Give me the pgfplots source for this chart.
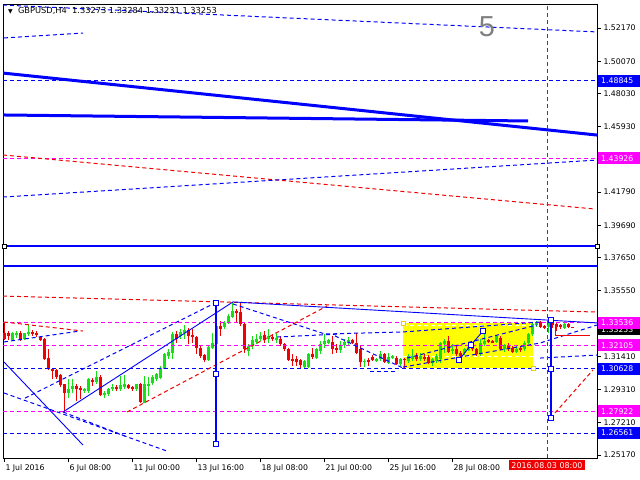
\documentclass[border=0pt]{standalone}
\usepackage{fontspec}
\setmainfont{DejaVu Sans}
\newfontfamily\lib{Liberation Sans}
\usepackage{pgfplots}
\usepackage{pgfplotstable}
\pgfplotsset{compat=1.18}

\definecolor{cup}{RGB}{20,225,20}
\definecolor{cdn}{RGB}{240,0,0}
\definecolor{cblue}{RGB}{0,0,255}
\definecolor{cmag}{RGB}{255,0,255}
\definecolor{cyel}{RGB}{255,255,0}

% H4 candles, x = bar number (1 Jul 2016 = 0)
\pgfplotstableread{
i o h l c
2 1.3244 1.3294 1.3237 1.3286
3 1.3275 1.3301 1.3259 1.3290
5 1.3248 1.3290 1.3244 1.3286
6 1.3280 1.3343 1.3269 1.3294
16 1.2907 1.2995 1.2879 1.2936
17 1.2932 1.2999 1.2911 1.2953
20 1.2921 1.2942 1.2911 1.2936
21 1.2921 1.3006 1.2911 1.2995
23 1.2978 1.3048 1.2964 1.3012
25 1.2894 1.2921 1.2879 1.2907
26 1.2900 1.2942 1.2890 1.2936
27 1.2932 1.2964 1.2921 1.2949
29 1.2932 1.3016 1.2921 1.2957
30 1.2949 1.3020 1.2932 1.2964
33 1.2932 1.2968 1.2921 1.2964
35 1.2848 1.3016 1.2843 1.2964
36 1.2953 1.3012 1.2890 1.2968
37 1.2970 1.3020 1.2959 1.3012
38 1.2995 1.3037 1.2985 1.3027
39 1.3006 1.3080 1.2995 1.3069
40 1.3063 1.3164 1.3058 1.3153
41 1.3143 1.3185 1.3122 1.3168
42 1.3164 1.3294 1.3122 1.3280
44 1.3269 1.3311 1.3248 1.3294
45 1.3290 1.3336 1.3248 1.3307
51 1.3117 1.3210 1.3111 1.3202
52 1.3195 1.3290 1.3185 1.3227
53 1.3216 1.3480 1.3206 1.3332
55 1.3328 1.3364 1.3315 1.3353
56 1.3353 1.3406 1.3343 1.3395
57 1.3391 1.3484 1.3385 1.3427
61 1.3174 1.3216 1.3143 1.3206
62 1.3206 1.3269 1.3185 1.3244
63 1.3231 1.3280 1.3216 1.3252
64 1.3248 1.3294 1.3237 1.3269
66 1.3248 1.3315 1.3227 1.3269
68 1.3244 1.3286 1.3223 1.3259
75 1.3075 1.3117 1.3069 1.3111
76 1.3075 1.3164 1.3069 1.3153
78 1.3132 1.3195 1.3122 1.3185
79 1.3174 1.3237 1.3153 1.3216
80 1.3216 1.3280 1.3195 1.3237
81 1.3227 1.3252 1.3216 1.3242
84 1.3181 1.3237 1.3159 1.3210
85 1.3210 1.3248 1.3195 1.3231
86 1.3223 1.3263 1.3210 1.3244
90 1.3105 1.3122 1.3075 1.3111
93 1.3111 1.3132 1.3105 1.3126
94 1.3122 1.3174 1.3111 1.3153
96 1.3101 1.3164 1.3090 1.3136
97 1.3132 1.3151 1.3122 1.3143
99 1.3090 1.3132 1.3080 1.3126
101 1.3111 1.3153 1.3101 1.3143
102 1.3122 1.3185 1.3111 1.3143
104 1.3122 1.3159 1.3111 1.3143
107 1.3096 1.3132 1.3080 1.3126
108 1.3111 1.3153 1.3096 1.3143
109 1.3122 1.3231 1.3096 1.3223
110 1.3216 1.3248 1.3164 1.3237
112 1.3172 1.3216 1.3153 1.3189
115 1.3159 1.3195 1.3147 1.3185
116 1.3181 1.3216 1.3172 1.3202
119 1.3153 1.3248 1.3143 1.3227
120 1.3216 1.3290 1.3206 1.3237
123 1.3231 1.3273 1.3223 1.3269
125 1.3185 1.3216 1.3168 1.3210
128 1.3168 1.3210 1.3159 1.3189
130 1.3185 1.3237 1.3174 1.3227
131 1.3227 1.3290 1.3216 1.3280
132 1.3280 1.3353 1.3269 1.3343
133 1.3336 1.3364 1.3328 1.3358
136 1.3328 1.3364 1.3290 1.3353
140 1.3322 1.3353 1.3315 1.3343
}\up

\pgfplotstableread{
i o h l c
0 1.3290 1.3358 1.3244 1.3248
1 1.3290 1.3301 1.3244 1.3269
4 1.3290 1.3301 1.3237 1.3248
7 1.3294 1.3307 1.3269 1.3280
8 1.3290 1.3301 1.3265 1.3273
9 1.3265 1.3269 1.3237 1.3244
10 1.3248 1.3259 1.3117 1.3122
11 1.3128 1.3189 1.3054 1.3058
12 1.3063 1.3069 1.2995 1.3048
13 1.3052 1.3058 1.2999 1.3012
14 1.3020 1.3027 1.2949 1.2957
15 1.2964 1.2968 1.2784 1.2911
18 1.2953 1.2964 1.2858 1.2932
19 1.2942 1.2953 1.2869 1.2926
22 1.2991 1.3006 1.2953 1.2978
24 1.3012 1.3020 1.2890 1.2894
28 1.2949 1.2957 1.2921 1.2932
31 1.2959 1.2968 1.2932 1.2940
32 1.2947 1.2953 1.2921 1.2932
34 1.2964 1.2974 1.2848 1.2852
43 1.3280 1.3301 1.3227 1.3248
46 1.3307 1.3322 1.3216 1.3269
47 1.3273 1.3315 1.3227 1.3261
48 1.3263 1.3269 1.3153 1.3195
49 1.3195 1.3206 1.3132 1.3143
50 1.3147 1.3153 1.3105 1.3117
54 1.3332 1.3364 1.3269 1.3315
58 1.3427 1.3438 1.3353 1.3412
59 1.3421 1.3480 1.3332 1.3343
60 1.3343 1.3353 1.3164 1.3185
65 1.3273 1.3301 1.3227 1.3244
67 1.3263 1.3280 1.3237 1.3248
69 1.3248 1.3269 1.3206 1.3216
70 1.3216 1.3227 1.3174 1.3185
71 1.3185 1.3195 1.3111 1.3117
72 1.3122 1.3153 1.3080 1.3111
73 1.3122 1.3143 1.3080 1.3105
74 1.3117 1.3122 1.3069 1.3084
77 1.3153 1.3195 1.3122 1.3136
82 1.3231 1.3269 1.3153 1.3189
83 1.3195 1.3216 1.3164 1.3181
87 1.3244 1.3252 1.3216 1.3227
88 1.3227 1.3290 1.3153 1.3164
89 1.3185 1.3206 1.3075 1.3105
91 1.3115 1.3132 1.3080 1.3105
92 1.3136 1.3147 1.3109 1.3115
95 1.3153 1.3164 1.3101 1.3105
98 1.3132 1.3143 1.3084 1.3090
100 1.3126 1.3130 1.3058 1.3117
103 1.3143 1.3164 1.3111 1.3122
105 1.3138 1.3153 1.3111 1.3126
106 1.3136 1.3147 1.3090 1.3096
111 1.3237 1.3269 1.3164 1.3168
113 1.3189 1.3206 1.3143 1.3153
114 1.3164 1.3174 1.3122 1.3143
117 1.3195 1.3206 1.3174 1.3185
118 1.3185 1.3195 1.3143 1.3153
121 1.3244 1.3252 1.3223 1.3231
122 1.3237 1.3244 1.3223 1.3227
124 1.3259 1.3269 1.3181 1.3185
126 1.3210 1.3223 1.3172 1.3185
127 1.3195 1.3206 1.3164 1.3168
129 1.3195 1.3206 1.3168 1.3181
134 1.3358 1.3364 1.3322 1.3328
135 1.3332 1.3336 1.3315 1.3322
137 1.3353 1.3370 1.3322 1.3336
138 1.3343 1.3353 1.3301 1.3328
139 1.3336 1.3343 1.3315 1.3328
141 1.3343 1.3349 1.3322 1.3328
142 1.3327 1.3328 1.3323 1.3325
}\dn

\tikzset{
  dsh/.style={dash pattern=on 4bp off 3bp, line width=1bp},
  pricebox/.style={anchor=west, text=white, inner xsep=3bp, inner ysep=0pt,
    minimum height=12bp, text width=38bp, align=left,
    font=\fontsize{7.8}{9}\selectfont, xshift=1bp},
}
\pgfplotsset{
  wick/.style={draw=none, forget plot, error bars/.cd, y dir=plus, y explicit,
    error mark=none, error bar style={solid, draw=#1, line width=1bp}},
  body/.style={draw=none, forget plot, error bars/.cd, y dir=plus, y explicit,
    error mark=none, error bar style={solid, draw=#1, line width=3bp, line cap=butt}},
}

\begin{document}
\begin{tikzpicture}
\useasboundingbox (0,0) rectangle (640bp,480bp);
\fill[white] (0,0) rectangle (640bp,480bp);
\begin{axis}[
  at={(3bp,22bp)}, anchor=south west,
  scale only axis, width=594bp, height=454bp,
  xmin=-0.25, xmax=148.25, ymin=1.24981, ymax=1.53687,
  clip mode=individual,
  axis line style={black, line width=0.8bp},
  tick align=outside, major tick length=4bp,
  tick style={black, line width=0.8bp},
  xtick pos=bottom, ytick pos=right, yticklabel pos=right,
  xtick={0,16,32,48,64,80,96,112},
  xticklabels={1 Jul 2016,6 Jul 08:00,11 Jul 00:00,13 Jul 16:00,18 Jul 08:00,21 Jul 00:00,25 Jul 16:00,28 Jul 08:00},
  ytick={1.52170,1.50070,1.48030,1.45930,1.41790,1.39690,1.37650,1.35550,1.31410,1.29310,1.27210,1.25170},
  yticklabels={1.52170,1.50070,1.48030,1.45930,1.41790,1.39690,1.37650,1.35550,1.31410,1.29310,1.27210,1.25170},
  tick label style={font=\fontsize{7.8}{9}\selectfont, black},
  xticklabel style={anchor=north west, xshift=-2bp, yshift=1bp},
  yticklabel style={anchor=west, xshift=-1bp},
]
% yellow rectangle
\addplot[fill=cyel, draw=none, forget plot] coordinates {(99.75,1.30671) (132.25,1.30671) (132.25,1.33517) (99.75,1.33517)};
\addplot[white, dsh, forget plot] coordinates {(99.75,1.3333) (132.25,1.3333)};
\addplot[white, dsh, forget plot] coordinates {(99.75,1.3137) (132.25,1.3137)};

% candles
\addplot[wick=cup] table[x=i, y=l, y error expr=\thisrow{h}-\thisrow{l}] {\up};
\addplot[body=cup] table[x=i, y=o, y error expr=\thisrow{c}-\thisrow{o}] {\up};
\addplot[wick=cdn] table[x=i, y=l, y error expr=\thisrow{h}-\thisrow{l}] {\dn};
\addplot[body=cdn] table[x=i, y=c, y error expr=\thisrow{o}-\thisrow{c}] {\dn};

% horizontal levels
\addplot[cblue, dsh] coordinates {(-0.25,1.48845) (148.25,1.48845)};
\addplot[cmag, dsh] coordinates {(-0.25,1.43926) (148.25,1.43926)};
\addplot[cmag, dsh] coordinates {(-0.25,1.33536) (148.25,1.33536)};
\addplot[cmag, dsh] coordinates {(-0.25,1.32105) (148.25,1.32105)};
\addplot[cmag, dsh] coordinates {(-0.25,1.27922) (148.25,1.27922)};
\addplot[cblue, dsh] coordinates {(-0.25,1.30628) (148.25,1.30628)};
\addplot[cblue, dsh] coordinates {(-0.25,1.26561) (148.25,1.26561)};
\addplot[cblue, line width=1.2bp] coordinates {(-0.25,1.38385) (148.25,1.38385)};
\addplot[cblue, line width=1.2bp] coordinates {(-0.25,1.37121) (148.25,1.37121)};
\addplot[only marks, mark=square*, mark size=2bp, mark options={fill=white, draw=black, line width=0.6bp}] coordinates {(0,1.38385) (148.25,1.38385)};

% upper trend lines
\addplot[cblue, dsh] coordinates {(-0.25,1.5362) (148.25,1.5192)};
\addplot[cblue, dsh] coordinates {(0,1.5154) (19.75,1.5185)};
\addplot[cblue, line width=3bp] coordinates {(-0.25,1.4932) (148.25,1.4540)};
\addplot[cblue, line width=3bp] coordinates {(-0.25,1.4667) (131,1.4629)};
\addplot[cdn, dsh] coordinates {(-0.25,1.4414) (147.5,1.4073)};
\addplot[cblue, dsh] coordinates {(-0.25,1.4148) (148.25,1.4382)};

% lower lines
\addplot[cdn, dsh] coordinates {(-0.25,1.3522) (148.25,1.3421)};
\addplot[cdn, dsh] coordinates {(0,1.3358) (19.75,1.3301)};
\addplot[cblue, dsh] coordinates {(0,1.3232) (19,1.3301)};
\addplot[cblue, line width=0.9bp] coordinates {(0,1.3105) (19.75,1.2580)};
\addplot[cblue, dsh] coordinates {(0,1.2909) (40.75,1.2542)};
\addplot[cblue, dsh] coordinates {(14.75,1.2789) (30.25,1.2637)};
\addplot[cblue, dsh] coordinates {(5.25,1.2877) (52.25,1.3472)};
\addplot[cblue, line width=0.9bp] coordinates {(14.75,1.2789) (57.25,1.3485) (148.25,1.3352)};
\addplot[cblue, dsh] coordinates {(57.25,1.3472) (80.25,1.3282) (99.75,1.3295) (134,1.3358)};
\addplot[cblue, dsh] coordinates {(68.25,1.3263) (84,1.3282)};
\addplot[cdn, dsh] coordinates {(30.75,1.2789) (80.75,1.3459)};
\addplot[cblue, dsh] coordinates {(99.75,1.3073) (134,1.3225) (148.25,1.3339)};
\addplot[cblue, dsh] coordinates {(100.75,1.3130) (133.25,1.3339)};
\addplot[cblue, dsh] coordinates {(134,1.3130) (148.25,1.3149)};
\addplot[cblue, dsh] coordinates {(82.75,1.3270) (99.75,1.3067)};
\addplot[cblue, dsh] coordinates {(91.5,1.3042) (97.75,1.3042)};

% zigzag in the rectangle
\addplot[cblue, line width=0.9bp, mark=square*, mark size=2.3bp, mark options={fill=white, draw=cblue, line width=0.8bp}] coordinates {(113.75,1.3118) (116.75,1.3213) (119.75,1.3301)};
\addplot[only marks, mark=square*, mark size=2bp, mark options={fill=white, draw={rgb,255:red,230;green,210;blue,0}, line width=0.8bp}] coordinates {(99.75,1.33517) (132.25,1.30671)};

% vertical measures
\addplot[cblue, line width=1.2bp] coordinates {(53,1.3478) (53,1.2587)};
\addplot[only marks, mark=square*, mark size=2.3bp, mark options={fill=white, draw=cblue, line width=0.8bp}] coordinates {(53,1.3478) (53,1.3029) (53,1.2587)};
\addplot[cdn, dsh] coordinates {(135.75,1.24981) (135.75,1.53687)};
\addplot[cblue, line width=1.2bp] coordinates {(136.75,1.3371) (136.75,1.2751)};
\addplot[only marks, mark=square*, mark size=2.3bp, mark options={fill=white, draw=cblue, line width=0.8bp}] coordinates {(136.75,1.3371) (136.75,1.3061) (136.75,1.2751)};
\addplot[cdn, dsh] coordinates {(137.75,1.2783) (147.25,1.3055)};
\addplot[cdn, line width=0.9bp] coordinates {(137.75,1.3339) (137.75,1.3270) (146.5,1.3270)};

% labels
\node[anchor=west, inner sep=0pt] at (rel axis cs:0,1) [xshift=5bp, yshift=-7bp] {\fontsize{6}{7}\selectfont▼\fontsize{8.3}{9}\selectfont\ \ GBPUSD,H4\ \ 1.33273 1.33284 1.33231 1.33253};
\node[text={rgb,255:red,128;green,128;blue,128}, font=\lib\fontsize{29}{30}\selectfont, inner sep=0pt] at (axis cs:120.75,1.5223) {5};

\node[pricebox, fill=cblue] at (axis cs:148.25,1.48845) {1.48845};
\node[pricebox, fill=cmag] at (axis cs:148.25,1.43926) {1.43926};
\node[pricebox, fill=black, yshift=-2bp] at (axis cs:148.25,1.33253) {1.33253};
\node[pricebox, fill=cmag] at (axis cs:148.25,1.33536) {1.33536};
\node[pricebox, fill=cmag] at (axis cs:148.25,1.32105) {1.32105};
\node[pricebox, fill=cblue] at (axis cs:148.25,1.30628) {1.30628};
\node[pricebox, fill=cmag] at (axis cs:148.25,1.27922) {1.27922};
\node[pricebox, fill=cblue] at (axis cs:148.25,1.26561) {1.26561};
\node[anchor=north, fill=cdn, text=white, inner xsep=2.5bp, inner ysep=2bp, font=\fontsize{8}{9}\selectfont, yshift=-2bp] at (axis cs:135.75,1.24981) {2016.08.03 08:00};
\end{axis}
\end{tikzpicture}
\end{document}
